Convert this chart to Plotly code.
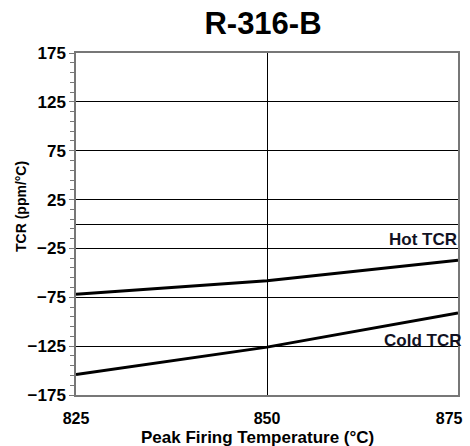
import plotly.graph_objects as go

temps = [825, 850, 875]
hot_tcr = [-72, -58, -37]
cold_tcr = [-154, -126, -91]
tick_labels = ["825", "850", "875"]
title = "R-316-B"
x_title = "Peak Firing Temperature (°C)"
y_title = "TCR (ppm/°C)"

font_family = "Liberation Sans, Arial, sans-serif"

# plot-area geometry in pixels (used to place titles)
W, H = 470, 446
L, R, T, B = 76, 12, 53, 51
pw, ph = W - L - R, H - T - B

fig = go.Figure()
fig.add_trace(go.Scatter(x=temps, y=hot_tcr, mode="lines",
                         line=dict(color="black", width=3), showlegend=False))
fig.add_trace(go.Scatter(x=temps, y=cold_tcr, mode="lines",
                         line=dict(color="black", width=3), showlegend=False))

fig.add_annotation(x=875, y=-16, xref="x", yref="y", text="<b>Hot TCR</b>",
                   showarrow=False, xanchor="right", yanchor="middle", xshift=1,
                   font=dict(size=17, color="#111122", family=font_family))
fig.add_annotation(x=875, y=-119, xref="x", yref="y", text="<b>Cold TCR</b>",
                   showarrow=False, xanchor="right", yanchor="middle", xshift=5,
                   font=dict(size=17, color="#111122", family=font_family))

# axis titles
fig.add_annotation(x=(257.5 - L) / pw, y=(H - B - 437) / ph, xref="paper", yref="paper",
                   text="<b>" + x_title + "</b>", showarrow=False,
                   xanchor="center", yanchor="middle",
                   font=dict(size=17, color="black", family=font_family))
fig.add_annotation(x=(21 - L) / pw, y=(H - B - 206) / ph, xref="paper", yref="paper",
                   text="<b>" + y_title + "</b>", showarrow=False, textangle=-90,
                   xanchor="center", yanchor="middle",
                   font=dict(size=14, color="black", family=font_family))

ticktext = ["<b>%s</b>" % t for t in tick_labels]
ticktext[-1] = ticktext[-1] + "&nbsp;" * 4

fig.update_layout(
    width=W, height=H,
    margin=dict(l=L, r=R, t=T, b=B, autoexpand=False),
    paper_bgcolor="white", plot_bgcolor="white",
    title=dict(text="<b>" + title + "</b>", x=263 / W, xanchor="center",
               y=1 - 23 / H, yanchor="middle",
               font=dict(size=31, color="black", family=font_family)),
    font=dict(family=font_family, color="black"),
)

fig.update_xaxes(
    range=[825, 875], tickmode="array", tickvals=temps,
    ticktext=ticktext, ticklabeloverflow="allow",
    tickfont=dict(size=16, color="black"),
    showgrid=True, gridcolor="black", gridwidth=1,
    showline=True, linecolor="#777777", linewidth=1.5, mirror=True,
    ticks="", ticklabelstandoff=8, automargin=False,
    zeroline=False,
)
fig.update_yaxes(
    range=[-175, 175], tickmode="linear", tick0=-175, dtick=50,
    tickprefix="<b>", ticksuffix="</b>",
    tickfont=dict(size=17, color="black"),
    showgrid=True, gridcolor="black", gridwidth=1,
    zeroline=True, zerolinecolor="black", zerolinewidth=1,
    showline=True, linecolor="#777777", linewidth=1.5, mirror=True,
    ticks="outside", ticklen=5, tickcolor="#777777", automargin=False,
    minor=dict(tick0=-175, dtick=10, ticks="outside", ticklen=4,
               tickcolor="#777777", showgrid=False),
)

fig.write_html("out.html")
